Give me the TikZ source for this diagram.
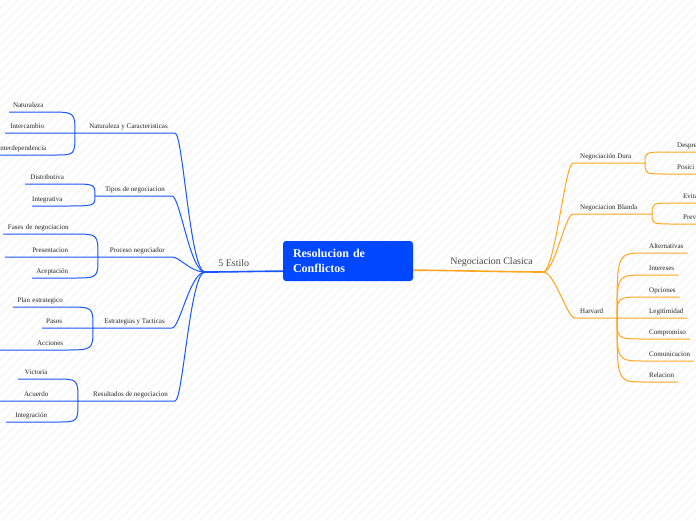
\documentclass[tikz,border=0pt]{standalone}
\usepackage{fontspec}
\setmainfont{Liberation Serif}
\usepackage{tikz}
\usetikzlibrary{calc}

\definecolor{mapblue}{RGB}{24,86,255}
\definecolor{rootblue}{RGB}{0,72,255}
\definecolor{maporange}{RGB}{255,165,30}
\definecolor{labelgray}{RGB}{72,72,72}

\begin{document}
\begin{tikzpicture}[x=1pt, y=-1pt,
  root/.style  ={rectangle, rounded corners=3pt, fill=rootblue, text=white,
                 font=\fontsize{12}{15}\selectfont\bfseries, align=left,
                 text width=110pt, minimum width=130pt, minimum height=40pt,
                 inner sep=0pt},
  branchlbl/.style={font=\fontsize{10}{12}\selectfont, text=labelgray,
                 inner sep=1pt},
  topicL/.style={anchor=south east, font=\fontsize{7}{8}\selectfont,
                 text=black!85, inner xsep=7pt, inner ysep=2.5pt,
                 text height=4.5pt, text depth=1.5pt},
  topicR/.style={topicL, anchor=south west},
  leaf/.style  ={anchor=south west, font=\fontsize{7}{8}\selectfont,
                 text=black!85, inner xsep=0pt, inner ysep=2.5pt,
                 text height=4.5pt, text depth=1.5pt, align=center},
  leafR/.style ={leaf, inner xsep=4pt, align=left},
  bline/.style ={draw=mapblue, line width=1pt},
  oline/.style ={draw=maporange, line width=1pt},
  trunk/.style ={line width=1.6pt},
  stripe/.style={draw=black!4, line width=1.2pt},
]
\useasboundingbox (0,0) rectangle (696,520);
\clip (0,0) rectangle (696,520);

% === Background ===
\fill[white] (0,0) rectangle (696,520);
\foreach \s in {-520,-511,...,700}
  \draw[stripe] (\s,520) -- ++(520,-520);

% === Central topic ===
\node[root] (root) at (348,261) {Resolucion de\\Conflictos};
\coordinate (lroot) at ($(root.south west)+(0,-10)$);
\coordinate (rroot) at ($(root.south east)+(0,-11)$);
\coordinate (lhub) at (205,272);
\coordinate (rhub) at (543,272);

\draw[bline, trunk] (lroot) .. controls +(-30,0) and +(30,0) .. (lhub)
  node[branchlbl, pos=0.64, above=3pt]{5 Estilo};
\draw[oline, trunk] (rroot) .. controls +(30,0) and +(-30,0) .. (rhub)
  node[branchlbl, pos=0.59, above=3pt]{Negociacion Clasica};

% === Left topics ===
\node[topicL] (natur) at (175,133) {Naturaleza y Caracteristicas};
\node[topicL] (tipos) at (172,196) {Tipos de negociacion};
\node[topicL] (proce) at (172,257) {Proceso negociador};
\node[topicL] (estra) at (172,328) {Estrategias y Tacticas};
\node[topicL] (resul) at (175,401) {Resultados de negociacion};

\coordinate (njoin) at (75,133);
\coordinate (tjoin) at (95,196);
\coordinate (pjoin) at (98,257);
\coordinate (ejoin) at (93,328);
\coordinate (rjoin) at (78,401);

% === Left leaves ===
\node[leaf, text width=38] (natura) at (9,112)   {Naturaleza};
\node[leaf, text width=44] (interc) at (5,133)   {Intercambio};
\node[leaf, text width=64] (interd) at (-10,155) {Interdependencia};
\node[leaf, text width=44] (distri) at (25,184)  {Distributiva};
\node[leaf, text width=30] (integr) at (32,206)  {Integrativa};
\node[leaf, text width=70] (fases)  at (3,234)   {Fases de negociacion};
\node[leaf, text width=90] (presen) at (5,257)   {Presentacion};
\node[leaf, text width=40] (acepta) at (32,278)  {Aceptación};
\node[leaf, text width=54] (planes) at (13,307)  {Plan estrategico};
\node[leaf, text width=24] (pasos)  at (42,328)  {Pasos};
\node[leaf, text width=63, align=right] (accion) at (0,350) {Acciones};
\node[leaf, text width=36] (victor) at (18,379)  {Victoria};
\node[leaf, text width=72] (acuerd) at (0,401)   {Acuerdo};
\node[leaf, text width=50] (intega) at (6,422)   {Integración};

% === Left connectors ===
\draw[bline] (lhub) .. controls +(-15,0) and +(8,0) .. (natur.south east)
  -- (njoin) -- (interc.south east) -- (interc.south west);
\draw[bline] (lhub) .. controls +(-15,0) and +(8,0) .. (tipos.south east) -- (tjoin);
\draw[bline] (lhub) .. controls +(-15,0) and +(8,0) .. (proce.south east)
  -- (pjoin) -- (presen.south west);
\draw[bline] (lhub) .. controls +(-15,0) and +(8,0) .. (estra.south east)
  -- (ejoin) -- (pasos.south east) -- (pasos.south west);
\draw[bline] (lhub) .. controls +(-15,0) and +(8,0) .. (resul.south east)
  -- (rjoin) -- (acuerd.south east) -- (acuerd.south west);

\draw[bline] (njoin) .. controls (njoin |- natura.south east) .. (natura.south east) -- (natura.south west);
\draw[bline] (njoin) .. controls (njoin |- interd.south east) .. (interd.south east) -- (interd.south west);
\draw[bline] (tjoin) .. controls (tjoin |- distri.south east) .. (distri.south east) -- (distri.south west);
\draw[bline] (tjoin) .. controls (tjoin |- integr.south east) .. (integr.south east) -- (integr.south west);
\draw[bline] (pjoin) .. controls (pjoin |- fases.south east) .. (fases.south east) -- (fases.south west);
\draw[bline] (pjoin) .. controls (pjoin |- acepta.south east) .. (acepta.south east) -- (acepta.south west);
\draw[bline] (ejoin) .. controls (ejoin |- planes.south east) .. (planes.south east) -- (planes.south west);
\draw[bline] (ejoin) .. controls (ejoin |- accion.south east) .. (accion.south east) -- (accion.south west);
\draw[bline] (rjoin) .. controls (rjoin |- victor.south east) .. (victor.south east) -- (victor.south west);
\draw[bline] (rjoin) .. controls (rjoin |- intega.south east) .. (intega.south east) -- (intega.south west);

% === Right topics ===
\node[topicR] (dura)    at (573,163) {Negociación Dura};
\node[topicR] (blanda)  at (573,214) {Negociacion Blanda};
\node[topicR, inner xsep=5pt] (harvard) at (575,318) {Harvard};

\coordinate (djoin) at (645,163);
\coordinate (bjoin) at (652,214);
\coordinate (hjoin) at (617,318);

% === Right leaves ===
\node[leafR, inner xsep=9pt, text width=40] (despre) at (668,152) {Despre};
\node[leafR, inner xsep=9pt, text width=40] (posici) at (668,174) {Posici};
\node[leafR, inner xsep=9pt, text width=40] (evita)  at (674,203) {Evita};
\node[leafR, inner xsep=9pt, text width=40] (preve)  at (674,224) {Prev};

\node[leafR] (altern) at (645,253) {Alternativas};
\node[leafR] (inters) at (645,275) {Intereses};
\node[leafR] (opcion) at (645,297) {Opciones};
\node[leafR] (legiti) at (645,318) {Legitimidad};
\node[leafR] (compro) at (645,339) {Compromiso};
\node[leafR] (comuni) at (645,361) {Comunicacion};
\node[leafR] (relaci) at (645,382) {Relacion};

% === Right connectors ===
\draw[oline] (rhub) .. controls +(12,0) and +(-8,0) .. (dura.south west) -- (djoin);
\draw[oline] (rhub) .. controls +(12,0) and +(-8,0) .. (blanda.south west) -- (bjoin);
\draw[oline] (rhub) .. controls +(12,0) and +(-8,0) .. (harvard.south west)
  -- (hjoin) -- (legiti.south west) -- (legiti.south east);

\draw[oline] (djoin) .. controls (djoin |- despre.south west) .. (despre.south west) -- (despre.south east);
\draw[oline] (djoin) .. controls (djoin |- posici.south west) .. (posici.south west) -- (posici.south east);
\draw[oline] (bjoin) .. controls (bjoin |- evita.south west) .. (evita.south west) -- (evita.south east);
\draw[oline] (bjoin) .. controls (bjoin |- preve.south west) .. (preve.south west) -- (preve.south east);

\foreach \lf in {altern,inters,opcion,compro,comuni,relaci}
  \draw[oline] (hjoin) .. controls (hjoin |- \lf.south west) .. (\lf.south west) -- (\lf.south east);

\end{tikzpicture}
\end{document}
